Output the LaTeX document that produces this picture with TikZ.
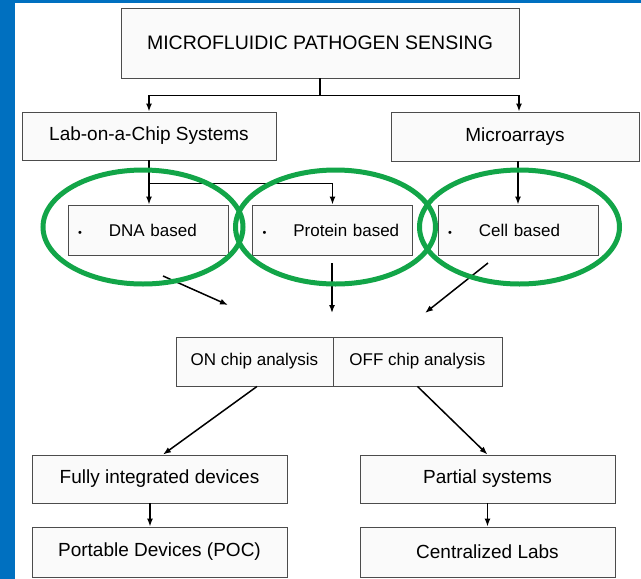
\documentclass[tikz,border=0pt]{standalone}
\usepackage{fontspec}
\setmainfont{Liberation Sans}
\usetikzlibrary{arrows.meta}
\definecolor{frameBlue}{RGB}{0,112,192}
\definecolor{ringGreen}{RGB}{18,165,72}

\begin{document}
\begin{tikzpicture}
[x=1pt,y=-1pt,
  boxDecorate/.style={shape=rectangle,draw=black!70,line width=0.9pt,fill=black!2,inner sep=0pt},%
  bulletDecorate/.style={boxDecorate,align=left,inner xsep=10pt,text width=140pt,
    minimum height=50pt,font=\fontsize{17}{18}\selectfont},%
  lineDecorate/.style={-{Latex[length=8pt,width=6pt]},line width=1.5pt},%
  ringDecorate/.style={draw=ringGreen,line width=5pt}]
\useasboundingbox (0,0) rectangle (641,579);
%% frame
\fill[frameBlue] (0,0) rectangle (15,579);
\fill[frameBlue] (0,0) rectangle (641,3);
%% boxes
\foreach \nodename/\x/\y/\w/\h/\size/\txt in {
  title/320/43/398/70/19.5/MICROFLUIDIC PATHOGEN SENSING,
  lab/149/136/254/48/19/Lab-on-a-Chip Systems,
  micro/515/136.5/248/49/19/Microarrays,
  on/254.5/361.5/157/49/17/ON chip analysis,
  off/417.5/361.5/169/49/17/OFF chip analysis,
  fully/159.5/479/255/48/19/Fully integrated devices,
  partial/487.5/479/255/48/19/Partial systems,
  port/159.5/552/255/50/19/Portable Devices (POC),
  central/487.5/552/255/50/19/Centralized Labs}
{
  \node (\nodename) at (\x,\y) [boxDecorate,minimum width=\w pt,minimum height=\h pt,
    font=\fontsize{\size}{\size}\selectfont] {\txt};
}
%% bullet boxes
\foreach \nodename/\x/\txt in {dna/148/DNA based, prot/332.5/Protein based, cell/518/Cell based}
{
  \node (\nodename) at (\x,230) [bulletDecorate]
    {{\fontsize{11}{11}\selectfont\textbullet}\hspace{27pt}\txt};
}
%% free ends
\coordinate (dnaOut) at (163,276);
\coordinate (onIn) at (228,305);
\coordinate (protOut) at (332,263);
\coordinate (midIn) at (332,313);
\coordinate (cellOut) at (488,263);
\coordinate (offIn) at (425,313);
%% connectors
\draw[lineDecorate] (title.south) -- ++(0,17) -| (lab.north);
\draw[lineDecorate] (title.south) -- ++(0,17) -| ([xshift=4pt]micro.north);
\draw[lineDecorate] (lab.south) -- (lab.south |- dna.north);
\draw[lineDecorate] (lab.south) -- ++(0,23) -| (prot.north);
\draw[lineDecorate] (cell.north |- micro.south) -- (cell.north);
\draw[lineDecorate] ([xshift=2.5pt]on.south) -- ([xshift=3.5pt]fully.north);
\draw[lineDecorate] ([xshift=-9.5pt]fully.south) -- ([xshift=-9.5pt]port.north);
\path
\foreach \startnode/\endnode in {
  dnaOut/onIn, protOut/midIn, cellOut/offIn,
  off.south/partial.north, partial.south/central.north}
{
  (\startnode) edge[lineDecorate] (\endnode)
};
%% rings
\foreach \x in {143,335.5,519.5}
{
  \draw[ringDecorate] (\x,227) ellipse [x radius=100pt,y radius=57pt];
}
\end{tikzpicture}
\end{document}
